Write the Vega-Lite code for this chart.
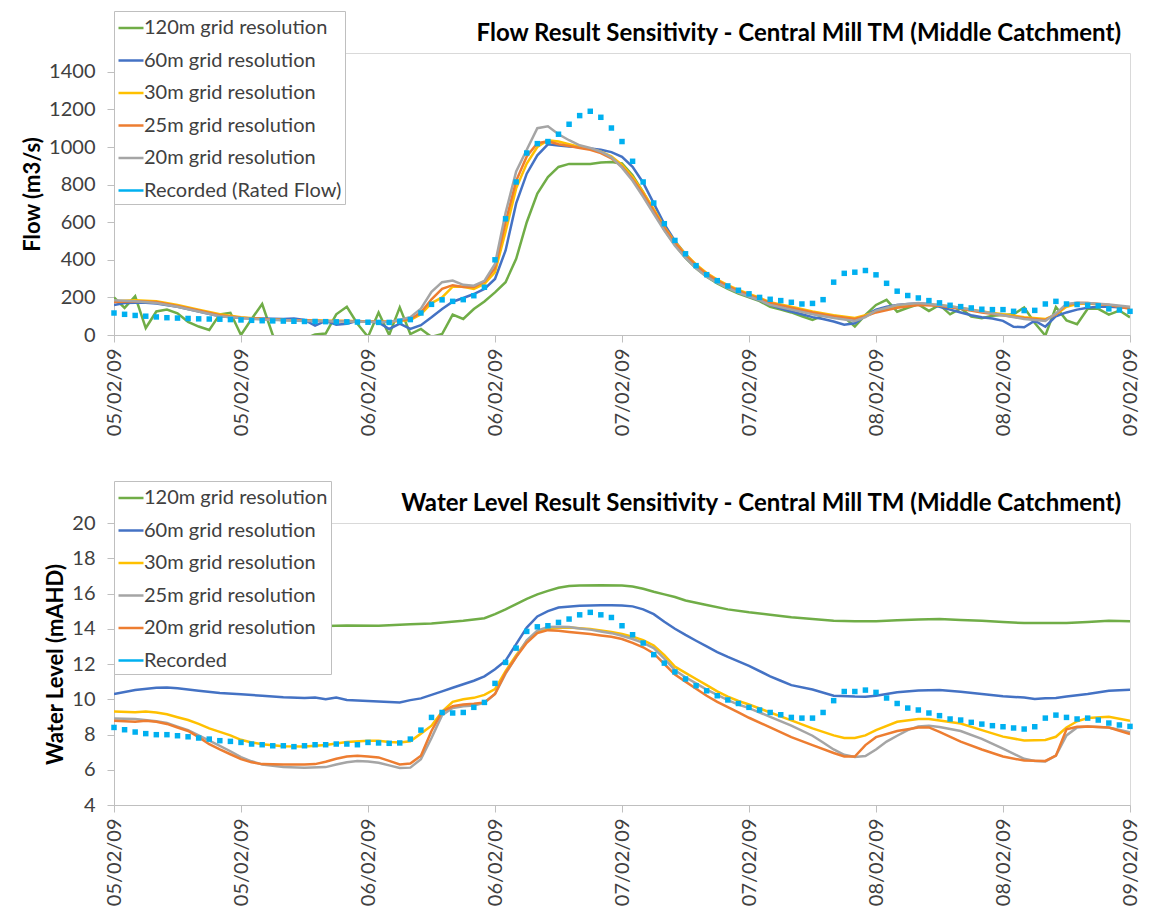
{
  "$schema": "https://vega.github.io/schema/vega-lite/v6.json",
  "padding": {"left": 21, "top": 10, "right": 20, "bottom": 5},
  "spacing": 43,
  "config": {
    "font": "Lato",
    "view": {"stroke": "#D9D9D9", "strokeWidth": 1},
    "axis": {"domainColor": "#BFBFBF", "tickColor": "#BFBFBF", "tickSize": 7, "labelFont": "Lato", "labelFontSize": 20, "labelColor": "#404040", "grid": false, "titleFont": "Lato", "titleFontSize": 22, "titleFontWeight": "bold", "titleColor": "#000000"},
    "legend": {"orient": "none", "legendX": 0, "legendY": -42, "title": null, "labelFont": "Lato", "labelFontSize": 20, "labelColor": "#404040", "labelLimit": 0, "labelOffset": -1, "rowPadding": 8.5, "padding": 3, "fillColor": "#FFFFFF", "strokeColor": "#BFBFBF", "symbolType": "stroke", "symbolSize": 625, "symbolStrokeWidth": 2.5},
    "title": {"font": "Lato", "fontSize": 24, "fontWeight": "bold", "color": "#000000", "anchor": "end", "frame": "group"}
  },
  "resolve": {"scale": {"color": "independent"}, "legend": {"color": "independent"}},
  "datasets": {
    "flow": [
      {"h":0,"s":"120m","v":200},{"h":1,"s":"120m","v":144},{"h":2,"s":"120m","v":206},{"h":3,"s":"120m","v":37},{"h":4,"s":"120m","v":125},{"h":5,"s":"120m","v":135},{"h":6,"s":"120m","v":115},{"h":7,"s":"120m","v":70},{"h":8,"s":"120m","v":45},{"h":9,"s":"120m","v":27},{"h":10,"s":"120m","v":110},{"h":11,"s":"120m","v":118},{"h":12,"s":"120m","v":0},{"h":13,"s":"120m","v":85},{"h":14,"s":"120m","v":165},{"h":15,"s":"120m","v":0},{"h":16,"s":"120m","v":-80},{"h":17,"s":"120m","v":-60},{"h":18,"s":"120m","v":-20},{"h":19,"s":"120m","v":3},{"h":20,"s":"120m","v":8},{"h":21,"s":"120m","v":110},{"h":22,"s":"120m","v":150},{"h":23,"s":"120m","v":60},{"h":24,"s":"120m","v":-10},{"h":25,"s":"120m","v":120},{"h":26,"s":"120m","v":0},{"h":27,"s":"120m","v":147},{"h":28,"s":"120m","v":5},{"h":29,"s":"120m","v":32},{"h":30,"s":"120m","v":-10},{"h":31,"s":"120m","v":5},{"h":32,"s":"120m","v":108},{"h":33,"s":"120m","v":85},{"h":34,"s":"120m","v":138},{"h":35,"s":"120m","v":178},{"h":36,"s":"120m","v":227},{"h":37,"s":"120m","v":281},{"h":38,"s":"120m","v":405},{"h":39,"s":"120m","v":600},{"h":40,"s":"120m","v":752},{"h":41,"s":"120m","v":840},{"h":42,"s":"120m","v":894},{"h":43,"s":"120m","v":910},{"h":44,"s":"120m","v":910},{"h":45,"s":"120m","v":910},{"h":46,"s":"120m","v":918},{"h":47,"s":"120m","v":920},{"h":48,"s":"120m","v":912},{"h":49,"s":"120m","v":850},{"h":50,"s":"120m","v":760},{"h":51,"s":"120m","v":660},{"h":52,"s":"120m","v":560},{"h":53,"s":"120m","v":480},{"h":54,"s":"120m","v":410},{"h":55,"s":"120m","v":355},{"h":56,"s":"120m","v":310},{"h":57,"s":"120m","v":275},{"h":58,"s":"120m","v":245},{"h":59,"s":"120m","v":220},{"h":60,"s":"120m","v":200},{"h":61,"s":"120m","v":180},{"h":62,"s":"120m","v":150},{"h":63,"s":"120m","v":135},{"h":64,"s":"120m","v":120},{"h":65,"s":"120m","v":100},{"h":66,"s":"120m","v":80},{"h":67,"s":"120m","v":103},{"h":68,"s":"120m","v":103},{"h":69,"s":"120m","v":94},{"h":70,"s":"120m","v":45},{"h":71,"s":"120m","v":107},{"h":72,"s":"120m","v":160},{"h":73,"s":"120m","v":187},{"h":74,"s":"120m","v":124},{"h":75,"s":"120m","v":145},{"h":76,"s":"120m","v":163},{"h":77,"s":"120m","v":128},{"h":78,"s":"120m","v":160},{"h":79,"s":"120m","v":110},{"h":80,"s":"120m","v":142},{"h":81,"s":"120m","v":98},{"h":82,"s":"120m","v":89},{"h":83,"s":"120m","v":103},{"h":84,"s":"120m","v":107},{"h":85,"s":"120m","v":110},{"h":86,"s":"120m","v":147},{"h":87,"s":"120m","v":64},{"h":88,"s":"120m","v":-3},{"h":89,"s":"120m","v":149},{"h":90,"s":"120m","v":78},{"h":91,"s":"120m","v":57},{"h":92,"s":"120m","v":139},{"h":93,"s":"120m","v":139},{"h":94,"s":"120m","v":108},{"h":95,"s":"120m","v":130},{"h":96,"s":"120m","v":94},

      {"h":0,"s":"60m","v":160},{"h":1,"s":"60m","v":170},{"h":2,"s":"60m","v":172},{"h":3,"s":"60m","v":172},{"h":4,"s":"60m","v":168},{"h":6,"s":"60m","v":150},{"h":8,"s":"60m","v":125},{"h":10,"s":"60m","v":100},{"h":12,"s":"60m","v":90},{"h":14,"s":"60m","v":88},{"h":16,"s":"60m","v":85},{"h":17,"s":"60m","v":88},{"h":18,"s":"60m","v":80},{"h":19,"s":"60m","v":50},{"h":20,"s":"60m","v":75},{"h":21,"s":"60m","v":55},{"h":22,"s":"60m","v":60},{"h":23,"s":"60m","v":75},{"h":24,"s":"60m","v":72},{"h":25,"s":"60m","v":67},{"h":26,"s":"60m","v":32},{"h":27,"s":"60m","v":60},{"h":28,"s":"60m","v":32},{"h":29,"s":"60m","v":52},{"h":30,"s":"60m","v":94},{"h":31,"s":"60m","v":138},{"h":32,"s":"60m","v":177},{"h":33,"s":"60m","v":197},{"h":34,"s":"60m","v":218},{"h":35,"s":"60m","v":245},{"h":36,"s":"60m","v":298},{"h":37,"s":"60m","v":450},{"h":38,"s":"60m","v":700},{"h":39,"s":"60m","v":858},{"h":40,"s":"60m","v":956},{"h":41,"s":"60m","v":1014},{"h":42,"s":"60m","v":1008},{"h":43,"s":"60m","v":1003},{"h":44,"s":"60m","v":1000},{"h":45,"s":"60m","v":992},{"h":46,"s":"60m","v":985},{"h":47,"s":"60m","v":973},{"h":48,"s":"60m","v":948},{"h":49,"s":"60m","v":895},{"h":50,"s":"60m","v":810},{"h":51,"s":"60m","v":700},{"h":52,"s":"60m","v":590},{"h":53,"s":"60m","v":500},{"h":54,"s":"60m","v":430},{"h":55,"s":"60m","v":370},{"h":56,"s":"60m","v":322},{"h":57,"s":"60m","v":285},{"h":58,"s":"60m","v":255},{"h":59,"s":"60m","v":228},{"h":60,"s":"60m","v":205},{"h":61,"s":"60m","v":185},{"h":62,"s":"60m","v":160},{"h":63,"s":"60m","v":140},{"h":64,"s":"60m","v":125},{"h":65,"s":"60m","v":110},{"h":66,"s":"60m","v":95},{"h":67,"s":"60m","v":85},{"h":68,"s":"60m","v":72},{"h":69,"s":"60m","v":55},{"h":70,"s":"60m","v":62},{"h":71,"s":"60m","v":103},{"h":72,"s":"60m","v":135},{"h":73,"s":"60m","v":150},{"h":74,"s":"60m","v":160},{"h":75,"s":"60m","v":165},{"h":76,"s":"60m","v":168},{"h":77,"s":"60m","v":165},{"h":78,"s":"60m","v":150},{"h":79,"s":"60m","v":135},{"h":80,"s":"60m","v":120},{"h":81,"s":"60m","v":105},{"h":82,"s":"60m","v":95},{"h":83,"s":"60m","v":88},{"h":84,"s":"60m","v":75},{"h":85,"s":"60m","v":44},{"h":86,"s":"60m","v":41},{"h":87,"s":"60m","v":76},{"h":88,"s":"60m","v":44},{"h":89,"s":"60m","v":100},{"h":90,"s":"60m","v":120},{"h":91,"s":"60m","v":135},{"h":92,"s":"60m","v":145},{"h":93,"s":"60m","v":150},{"h":94,"s":"60m","v":150},{"h":95,"s":"60m","v":148},{"h":96,"s":"60m","v":145},

      {"h":0,"s":"30m","v":180},{"h":2,"s":"30m","v":185},{"h":4,"s":"30m","v":180},{"h":6,"s":"30m","v":160},{"h":8,"s":"30m","v":135},{"h":10,"s":"30m","v":110},{"h":12,"s":"30m","v":95},{"h":14,"s":"30m","v":85},{"h":16,"s":"30m","v":80},{"h":18,"s":"30m","v":78},{"h":20,"s":"30m","v":76},{"h":22,"s":"30m","v":75},{"h":24,"s":"30m","v":72},{"h":26,"s":"30m","v":70},{"h":28,"s":"30m","v":80},{"h":29,"s":"30m","v":110},{"h":30,"s":"30m","v":170},{"h":31,"s":"30m","v":200},{"h":32,"s":"30m","v":257},{"h":33,"s":"30m","v":257},{"h":34,"s":"30m","v":245},{"h":35,"s":"30m","v":271},{"h":36,"s":"30m","v":334},{"h":37,"s":"30m","v":550},{"h":38,"s":"30m","v":780},{"h":39,"s":"30m","v":912},{"h":40,"s":"30m","v":1000},{"h":41,"s":"30m","v":1036},{"h":42,"s":"30m","v":1029},{"h":43,"s":"30m","v":1015},{"h":44,"s":"30m","v":1000},{"h":45,"s":"30m","v":990},{"h":46,"s":"30m","v":975},{"h":47,"s":"30m","v":950},{"h":48,"s":"30m","v":905},{"h":49,"s":"30m","v":840},{"h":50,"s":"30m","v":760},{"h":51,"s":"30m","v":670},{"h":52,"s":"30m","v":575},{"h":53,"s":"30m","v":495},{"h":54,"s":"30m","v":430},{"h":55,"s":"30m","v":375},{"h":56,"s":"30m","v":330},{"h":57,"s":"30m","v":295},{"h":58,"s":"30m","v":265},{"h":59,"s":"30m","v":240},{"h":60,"s":"30m","v":218},{"h":61,"s":"30m","v":198},{"h":62,"s":"30m","v":175},{"h":64,"s":"30m","v":150},{"h":66,"s":"30m","v":125},{"h":68,"s":"30m","v":105},{"h":70,"s":"30m","v":90},{"h":71,"s":"30m","v":105},{"h":72,"s":"30m","v":125},{"h":74,"s":"30m","v":150},{"h":76,"s":"30m","v":165},{"h":78,"s":"30m","v":160},{"h":80,"s":"30m","v":145},{"h":82,"s":"30m","v":125},{"h":84,"s":"30m","v":110},{"h":86,"s":"30m","v":95},{"h":88,"s":"30m","v":85},{"h":89,"s":"30m","v":110},{"h":90,"s":"30m","v":150},{"h":91,"s":"30m","v":165},{"h":92,"s":"30m","v":168},{"h":94,"s":"30m","v":160},{"h":96,"s":"30m","v":145},

      {"h":0,"s":"25m","v":175},{"h":2,"s":"25m","v":180},{"h":4,"s":"25m","v":175},{"h":6,"s":"25m","v":155},{"h":8,"s":"25m","v":130},{"h":10,"s":"25m","v":105},{"h":12,"s":"25m","v":92},{"h":14,"s":"25m","v":85},{"h":16,"s":"25m","v":80},{"h":18,"s":"25m","v":78},{"h":20,"s":"25m","v":75},{"h":22,"s":"25m","v":74},{"h":24,"s":"25m","v":72},{"h":26,"s":"25m","v":70},{"h":28,"s":"25m","v":85},{"h":29,"s":"25m","v":120},{"h":30,"s":"25m","v":190},{"h":31,"s":"25m","v":245},{"h":32,"s":"25m","v":265},{"h":33,"s":"25m","v":255},{"h":34,"s":"25m","v":255},{"h":35,"s":"25m","v":285},{"h":36,"s":"25m","v":355},{"h":37,"s":"25m","v":600},{"h":38,"s":"25m","v":820},{"h":39,"s":"25m","v":950},{"h":40,"s":"25m","v":1020},{"h":41,"s":"25m","v":1030},{"h":42,"s":"25m","v":1015},{"h":43,"s":"25m","v":1005},{"h":44,"s":"25m","v":995},{"h":45,"s":"25m","v":985},{"h":46,"s":"25m","v":968},{"h":47,"s":"25m","v":940},{"h":48,"s":"25m","v":895},{"h":49,"s":"25m","v":830},{"h":50,"s":"25m","v":750},{"h":51,"s":"25m","v":660},{"h":52,"s":"25m","v":570},{"h":53,"s":"25m","v":490},{"h":54,"s":"25m","v":425},{"h":55,"s":"25m","v":370},{"h":56,"s":"25m","v":325},{"h":57,"s":"25m","v":290},{"h":58,"s":"25m","v":260},{"h":59,"s":"25m","v":235},{"h":60,"s":"25m","v":213},{"h":61,"s":"25m","v":193},{"h":62,"s":"25m","v":170},{"h":64,"s":"25m","v":145},{"h":66,"s":"25m","v":120},{"h":68,"s":"25m","v":100},{"h":70,"s":"25m","v":85},{"h":71,"s":"25m","v":100},{"h":72,"s":"25m","v":120},{"h":74,"s":"25m","v":145},{"h":76,"s":"25m","v":160},{"h":78,"s":"25m","v":155},{"h":80,"s":"25m","v":140},{"h":82,"s":"25m","v":120},{"h":84,"s":"25m","v":105},{"h":86,"s":"25m","v":90},{"h":88,"s":"25m","v":80},{"h":89,"s":"25m","v":110},{"h":90,"s":"25m","v":160},{"h":91,"s":"25m","v":170},{"h":92,"s":"25m","v":170},{"h":94,"s":"25m","v":160},{"h":96,"s":"25m","v":140},

      {"h":0,"s":"20m","v":185},{"h":2,"s":"20m","v":180},{"h":4,"s":"20m","v":170},{"h":6,"s":"20m","v":150},{"h":8,"s":"20m","v":125},{"h":10,"s":"20m","v":100},{"h":12,"s":"20m","v":90},{"h":14,"s":"20m","v":82},{"h":16,"s":"20m","v":78},{"h":18,"s":"20m","v":75},{"h":20,"s":"20m","v":73},{"h":22,"s":"20m","v":72},{"h":24,"s":"20m","v":70},{"h":26,"s":"20m","v":68},{"h":28,"s":"20m","v":95},{"h":29,"s":"20m","v":140},{"h":30,"s":"20m","v":230},{"h":31,"s":"20m","v":281},{"h":32,"s":"20m","v":290},{"h":33,"s":"20m","v":267},{"h":34,"s":"20m","v":262},{"h":35,"s":"20m","v":288},{"h":36,"s":"20m","v":378},{"h":37,"s":"20m","v":650},{"h":38,"s":"20m","v":870},{"h":39,"s":"20m","v":985},{"h":40,"s":"20m","v":1100},{"h":41,"s":"20m","v":1110},{"h":42,"s":"20m","v":1068},{"h":43,"s":"20m","v":1036},{"h":44,"s":"20m","v":1009},{"h":45,"s":"20m","v":995},{"h":46,"s":"20m","v":975},{"h":47,"s":"20m","v":945},{"h":48,"s":"20m","v":890},{"h":49,"s":"20m","v":820},{"h":50,"s":"20m","v":735},{"h":51,"s":"20m","v":645},{"h":52,"s":"20m","v":555},{"h":53,"s":"20m","v":475},{"h":54,"s":"20m","v":410},{"h":55,"s":"20m","v":355},{"h":56,"s":"20m","v":310},{"h":57,"s":"20m","v":278},{"h":58,"s":"20m","v":250},{"h":59,"s":"20m","v":225},{"h":60,"s":"20m","v":205},{"h":61,"s":"20m","v":185},{"h":62,"s":"20m","v":160},{"h":64,"s":"20m","v":135},{"h":66,"s":"20m","v":110},{"h":68,"s":"20m","v":90},{"h":70,"s":"20m","v":75},{"h":71,"s":"20m","v":95},{"h":72,"s":"20m","v":130},{"h":74,"s":"20m","v":160},{"h":76,"s":"20m","v":170},{"h":78,"s":"20m","v":160},{"h":80,"s":"20m","v":145},{"h":82,"s":"20m","v":125},{"h":84,"s":"20m","v":105},{"h":86,"s":"20m","v":85},{"h":88,"s":"20m","v":75},{"h":89,"s":"20m","v":115},{"h":90,"s":"20m","v":165},{"h":91,"s":"20m","v":172},{"h":92,"s":"20m","v":170},{"h":94,"s":"20m","v":162},{"h":96,"s":"20m","v":150},

      {"h":0,"s":"Rec","v":117},{"h":1,"s":"Rec","v":110},{"h":2,"s":"Rec","v":104},{"h":3,"s":"Rec","v":100},{"h":4,"s":"Rec","v":96},{"h":5,"s":"Rec","v":92},{"h":6,"s":"Rec","v":90},{"h":7,"s":"Rec","v":88},{"h":8,"s":"Rec","v":86},{"h":9,"s":"Rec","v":85},{"h":10,"s":"Rec","v":84},{"h":11,"s":"Rec","v":82},{"h":12,"s":"Rec","v":80},{"h":13,"s":"Rec","v":78},{"h":14,"s":"Rec","v":76},{"h":15,"s":"Rec","v":75},{"h":16,"s":"Rec","v":74},{"h":17,"s":"Rec","v":73},{"h":18,"s":"Rec","v":72},{"h":19,"s":"Rec","v":72},{"h":20,"s":"Rec","v":71},{"h":21,"s":"Rec","v":70},{"h":22,"s":"Rec","v":70},{"h":23,"s":"Rec","v":69},{"h":24,"s":"Rec","v":68},{"h":25,"s":"Rec","v":67},{"h":26,"s":"Rec","v":67},{"h":27,"s":"Rec","v":73},{"h":28,"s":"Rec","v":82},{"h":29,"s":"Rec","v":117},{"h":30,"s":"Rec","v":163},{"h":31,"s":"Rec","v":187},{"h":32,"s":"Rec","v":179},{"h":33,"s":"Rec","v":188},{"h":34,"s":"Rec","v":209},{"h":35,"s":"Rec","v":254},{"h":36,"s":"Rec","v":400},{"h":37,"s":"Rec","v":618},{"h":38,"s":"Rec","v":814},{"h":39,"s":"Rec","v":968},{"h":40,"s":"Rec","v":1018},{"h":41,"s":"Rec","v":1029},{"h":42,"s":"Rec","v":1068},{"h":43,"s":"Rec","v":1121},{"h":44,"s":"Rec","v":1167},{"h":45,"s":"Rec","v":1190},{"h":46,"s":"Rec","v":1158},{"h":47,"s":"Rec","v":1101},{"h":48,"s":"Rec","v":1029},{"h":49,"s":"Rec","v":924},{"h":50,"s":"Rec","v":814},{"h":51,"s":"Rec","v":702},{"h":52,"s":"Rec","v":592},{"h":53,"s":"Rec","v":503},{"h":54,"s":"Rec","v":432},{"h":55,"s":"Rec","v":369},{"h":56,"s":"Rec","v":321},{"h":57,"s":"Rec","v":289},{"h":58,"s":"Rec","v":261},{"h":59,"s":"Rec","v":238},{"h":60,"s":"Rec","v":219},{"h":61,"s":"Rec","v":200},{"h":62,"s":"Rec","v":190},{"h":63,"s":"Rec","v":183},{"h":64,"s":"Rec","v":174},{"h":65,"s":"Rec","v":165},{"h":66,"s":"Rec","v":168},{"h":67,"s":"Rec","v":188},{"h":68,"s":"Rec","v":281},{"h":69,"s":"Rec","v":328},{"h":70,"s":"Rec","v":334},{"h":71,"s":"Rec","v":343},{"h":72,"s":"Rec","v":320},{"h":73,"s":"Rec","v":275},{"h":74,"s":"Rec","v":233},{"h":75,"s":"Rec","v":210},{"h":76,"s":"Rec","v":197},{"h":77,"s":"Rec","v":183},{"h":78,"s":"Rec","v":171},{"h":79,"s":"Rec","v":158},{"h":80,"s":"Rec","v":151},{"h":81,"s":"Rec","v":144},{"h":82,"s":"Rec","v":137},{"h":83,"s":"Rec","v":135},{"h":84,"s":"Rec","v":135},{"h":85,"s":"Rec","v":126},{"h":86,"s":"Rec","v":130},{"h":87,"s":"Rec","v":131},{"h":88,"s":"Rec","v":165},{"h":89,"s":"Rec","v":179},{"h":90,"s":"Rec","v":165},{"h":91,"s":"Rec","v":162},{"h":92,"s":"Rec","v":158},{"h":93,"s":"Rec","v":155},{"h":94,"s":"Rec","v":139},{"h":95,"s":"Rec","v":133},{"h":96,"s":"Rec","v":126}
    ],
    "level": [
      {"h":0,"s":"120m","v":14.2},{"h":4,"s":"120m","v":14.2},{"h":8,"s":"120m","v":14.2},{"h":12,"s":"120m","v":14.2},{"h":16,"s":"120m","v":14.2},{"h":20,"s":"120m","v":14.15},{"h":22,"s":"120m","v":14.18},{"h":25,"s":"120m","v":14.17},{"h":28,"s":"120m","v":14.25},{"h":30,"s":"120m","v":14.3},{"h":33,"s":"120m","v":14.45},{"h":35,"s":"120m","v":14.6},{"h":36,"s":"120m","v":14.83},{"h":37,"s":"120m","v":15.1},{"h":38,"s":"120m","v":15.4},{"h":39,"s":"120m","v":15.7},{"h":40,"s":"120m","v":15.95},{"h":41,"s":"120m","v":16.15},{"h":42,"s":"120m","v":16.33},{"h":43,"s":"120m","v":16.42},{"h":44,"s":"120m","v":16.45},{"h":46,"s":"120m","v":16.47},{"h":48,"s":"120m","v":16.45},{"h":49,"s":"120m","v":16.4},{"h":50,"s":"120m","v":16.27},{"h":51,"s":"120m","v":16.1},{"h":52,"s":"120m","v":15.95},{"h":53,"s":"120m","v":15.8},{"h":54,"s":"120m","v":15.6},{"h":56,"s":"120m","v":15.35},{"h":58,"s":"120m","v":15.1},{"h":60,"s":"120m","v":14.93},{"h":62,"s":"120m","v":14.8},{"h":64,"s":"120m","v":14.65},{"h":66,"s":"120m","v":14.55},{"h":68,"s":"120m","v":14.45},{"h":70,"s":"120m","v":14.42},{"h":72,"s":"120m","v":14.42},{"h":74,"s":"120m","v":14.48},{"h":76,"s":"120m","v":14.52},{"h":78,"s":"120m","v":14.55},{"h":80,"s":"120m","v":14.5},{"h":82,"s":"120m","v":14.45},{"h":84,"s":"120m","v":14.38},{"h":86,"s":"120m","v":14.32},{"h":88,"s":"120m","v":14.32},{"h":90,"s":"120m","v":14.32},{"h":92,"s":"120m","v":14.38},{"h":94,"s":"120m","v":14.45},{"h":96,"s":"120m","v":14.42},

      {"h":0,"s":"60m","v":10.3},{"h":2,"s":"60m","v":10.52},{"h":4,"s":"60m","v":10.65},{"h":5,"s":"60m","v":10.67},{"h":6,"s":"60m","v":10.62},{"h":8,"s":"60m","v":10.48},{"h":10,"s":"60m","v":10.35},{"h":12,"s":"60m","v":10.28},{"h":14,"s":"60m","v":10.2},{"h":16,"s":"60m","v":10.12},{"h":18,"s":"60m","v":10.07},{"h":19,"s":"60m","v":10.1},{"h":20,"s":"60m","v":10.0},{"h":21,"s":"60m","v":10.1},{"h":22,"s":"60m","v":9.96},{"h":24,"s":"60m","v":9.9},{"h":26,"s":"60m","v":9.85},{"h":27,"s":"60m","v":9.82},{"h":28,"s":"60m","v":9.95},{"h":29,"s":"60m","v":10.05},{"h":30,"s":"60m","v":10.25},{"h":31,"s":"60m","v":10.45},{"h":32,"s":"60m","v":10.65},{"h":33,"s":"60m","v":10.85},{"h":34,"s":"60m","v":11.05},{"h":35,"s":"60m","v":11.3},{"h":36,"s":"60m","v":11.7},{"h":37,"s":"60m","v":12.19},{"h":38,"s":"60m","v":13.13},{"h":39,"s":"60m","v":14.07},{"h":40,"s":"60m","v":14.7},{"h":41,"s":"60m","v":15.0},{"h":42,"s":"60m","v":15.2},{"h":44,"s":"60m","v":15.3},{"h":46,"s":"60m","v":15.33},{"h":47,"s":"60m","v":15.34},{"h":48,"s":"60m","v":15.32},{"h":49,"s":"60m","v":15.27},{"h":50,"s":"60m","v":15.1},{"h":51,"s":"60m","v":14.83},{"h":52,"s":"60m","v":14.4},{"h":53,"s":"60m","v":14.0},{"h":54,"s":"60m","v":13.65},{"h":55,"s":"60m","v":13.32},{"h":56,"s":"60m","v":13.0},{"h":57,"s":"60m","v":12.68},{"h":58,"s":"60m","v":12.4},{"h":60,"s":"60m","v":11.9},{"h":62,"s":"60m","v":11.3},{"h":63,"s":"60m","v":11.05},{"h":64,"s":"60m","v":10.8},{"h":66,"s":"60m","v":10.55},{"h":68,"s":"60m","v":10.2},{"h":70,"s":"60m","v":10.15},{"h":71,"s":"60m","v":10.14},{"h":72,"s":"60m","v":10.2},{"h":74,"s":"60m","v":10.4},{"h":76,"s":"60m","v":10.5},{"h":78,"s":"60m","v":10.52},{"h":80,"s":"60m","v":10.42},{"h":82,"s":"60m","v":10.3},{"h":84,"s":"60m","v":10.17},{"h":86,"s":"60m","v":10.1},{"h":87,"s":"60m","v":10.02},{"h":88,"s":"60m","v":10.05},{"h":89,"s":"60m","v":10.07},{"h":90,"s":"60m","v":10.15},{"h":92,"s":"60m","v":10.3},{"h":94,"s":"60m","v":10.48},{"h":96,"s":"60m","v":10.54},

      {"h":0,"s":"30m","v":9.31},{"h":2,"s":"30m","v":9.26},{"h":3,"s":"30m","v":9.3},{"h":4,"s":"30m","v":9.25},{"h":5,"s":"30m","v":9.15},{"h":6,"s":"30m","v":8.98},{"h":7,"s":"30m","v":8.82},{"h":8,"s":"30m","v":8.6},{"h":9,"s":"30m","v":8.35},{"h":10,"s":"30m","v":8.15},{"h":11,"s":"30m","v":7.95},{"h":12,"s":"30m","v":7.7},{"h":13,"s":"30m","v":7.55},{"h":14,"s":"30m","v":7.45},{"h":16,"s":"30m","v":7.33},{"h":18,"s":"30m","v":7.32},{"h":20,"s":"30m","v":7.4},{"h":22,"s":"30m","v":7.57},{"h":24,"s":"30m","v":7.65},{"h":25,"s":"30m","v":7.65},{"h":26,"s":"30m","v":7.57},{"h":27,"s":"30m","v":7.55},{"h":28,"s":"30m","v":7.62},{"h":29,"s":"30m","v":8.05},{"h":30,"s":"30m","v":8.5},{"h":31,"s":"30m","v":9.3},{"h":32,"s":"30m","v":9.85},{"h":33,"s":"30m","v":10.0},{"h":34,"s":"30m","v":10.08},{"h":35,"s":"30m","v":10.25},{"h":36,"s":"30m","v":10.58},{"h":37,"s":"30m","v":11.6},{"h":38,"s":"30m","v":12.5},{"h":39,"s":"30m","v":13.3},{"h":40,"s":"30m","v":13.8},{"h":41,"s":"30m","v":13.98},{"h":42,"s":"30m","v":14.05},{"h":43,"s":"30m","v":14.07},{"h":44,"s":"30m","v":14.03},{"h":45,"s":"30m","v":13.98},{"h":46,"s":"30m","v":13.9},{"h":47,"s":"30m","v":13.82},{"h":48,"s":"30m","v":13.7},{"h":49,"s":"30m","v":13.55},{"h":50,"s":"30m","v":13.35},{"h":51,"s":"30m","v":13.05},{"h":52,"s":"30m","v":12.5},{"h":53,"s":"30m","v":11.85},{"h":54,"s":"30m","v":11.5},{"h":55,"s":"30m","v":11.15},{"h":56,"s":"30m","v":10.8},{"h":57,"s":"30m","v":10.45},{"h":58,"s":"30m","v":10.15},{"h":59,"s":"30m","v":9.9},{"h":60,"s":"30m","v":9.7},{"h":62,"s":"30m","v":9.25},{"h":64,"s":"30m","v":8.8},{"h":66,"s":"30m","v":8.35},{"h":68,"s":"30m","v":7.95},{"h":69,"s":"30m","v":7.8},{"h":70,"s":"30m","v":7.8},{"h":71,"s":"30m","v":7.95},{"h":72,"s":"30m","v":8.25},{"h":74,"s":"30m","v":8.72},{"h":76,"s":"30m","v":8.88},{"h":77,"s":"30m","v":8.88},{"h":78,"s":"30m","v":8.8},{"h":80,"s":"30m","v":8.62},{"h":82,"s":"30m","v":8.25},{"h":84,"s":"30m","v":7.88},{"h":86,"s":"30m","v":7.66},{"h":88,"s":"30m","v":7.69},{"h":89,"s":"30m","v":7.87},{"h":90,"s":"30m","v":8.4},{"h":91,"s":"30m","v":8.75},{"h":92,"s":"30m","v":8.93},{"h":94,"s":"30m","v":9.0},{"h":96,"s":"30m","v":8.78},

      {"h":0,"s":"25m","v":8.91},{"h":2,"s":"25m","v":8.88},{"h":4,"s":"25m","v":8.75},{"h":5,"s":"25m","v":8.65},{"h":6,"s":"25m","v":8.45},{"h":7,"s":"25m","v":8.25},{"h":8,"s":"25m","v":7.95},{"h":9,"s":"25m","v":7.65},{"h":10,"s":"25m","v":7.35},{"h":11,"s":"25m","v":7.05},{"h":12,"s":"25m","v":6.72},{"h":13,"s":"25m","v":6.48},{"h":14,"s":"25m","v":6.3},{"h":16,"s":"25m","v":6.15},{"h":18,"s":"25m","v":6.12},{"h":20,"s":"25m","v":6.15},{"h":21,"s":"25m","v":6.3},{"h":22,"s":"25m","v":6.42},{"h":23,"s":"25m","v":6.5},{"h":24,"s":"25m","v":6.47},{"h":25,"s":"25m","v":6.4},{"h":26,"s":"25m","v":6.25},{"h":27,"s":"25m","v":6.1},{"h":28,"s":"25m","v":6.12},{"h":29,"s":"25m","v":6.6},{"h":30,"s":"25m","v":7.8},{"h":31,"s":"25m","v":9.1},{"h":32,"s":"25m","v":9.5},{"h":33,"s":"25m","v":9.6},{"h":34,"s":"25m","v":9.65},{"h":35,"s":"25m","v":9.8},{"h":36,"s":"25m","v":10.3},{"h":37,"s":"25m","v":11.45},{"h":38,"s":"25m","v":12.4},{"h":39,"s":"25m","v":13.35},{"h":40,"s":"25m","v":13.9},{"h":41,"s":"25m","v":14.1},{"h":42,"s":"25m","v":14.12},{"h":43,"s":"25m","v":14.1},{"h":44,"s":"25m","v":14.02},{"h":45,"s":"25m","v":13.95},{"h":46,"s":"25m","v":13.85},{"h":47,"s":"25m","v":13.75},{"h":48,"s":"25m","v":13.6},{"h":49,"s":"25m","v":13.42},{"h":50,"s":"25m","v":13.2},{"h":51,"s":"25m","v":12.9},{"h":52,"s":"25m","v":12.3},{"h":53,"s":"25m","v":11.65},{"h":54,"s":"25m","v":11.25},{"h":55,"s":"25m","v":10.9},{"h":56,"s":"25m","v":10.55},{"h":57,"s":"25m","v":10.25},{"h":58,"s":"25m","v":9.95},{"h":59,"s":"25m","v":9.7},{"h":60,"s":"25m","v":9.5},{"h":62,"s":"25m","v":9.0},{"h":64,"s":"25m","v":8.5},{"h":66,"s":"25m","v":7.93},{"h":67,"s":"25m","v":7.55},{"h":68,"s":"25m","v":7.15},{"h":69,"s":"25m","v":6.85},{"h":70,"s":"25m","v":6.72},{"h":71,"s":"25m","v":6.78},{"h":72,"s":"25m","v":7.15},{"h":73,"s":"25m","v":7.6},{"h":74,"s":"25m","v":7.93},{"h":75,"s":"25m","v":8.25},{"h":76,"s":"25m","v":8.45},{"h":77,"s":"25m","v":8.5},{"h":78,"s":"25m","v":8.42},{"h":80,"s":"25m","v":8.2},{"h":82,"s":"25m","v":7.75},{"h":84,"s":"25m","v":7.2},{"h":86,"s":"25m","v":6.62},{"h":87,"s":"25m","v":6.5},{"h":88,"s":"25m","v":6.47},{"h":89,"s":"25m","v":6.8},{"h":90,"s":"25m","v":7.95},{"h":91,"s":"25m","v":8.4},{"h":92,"s":"25m","v":8.45},{"h":94,"s":"25m","v":8.4},{"h":96,"s":"25m","v":8.12},

      {"h":0,"s":"20m","v":8.78},{"h":2,"s":"20m","v":8.73},{"h":3,"s":"20m","v":8.78},{"h":4,"s":"20m","v":8.72},{"h":5,"s":"20m","v":8.6},{"h":6,"s":"20m","v":8.4},{"h":7,"s":"20m","v":8.2},{"h":8,"s":"20m","v":7.85},{"h":9,"s":"20m","v":7.45},{"h":10,"s":"20m","v":7.15},{"h":11,"s":"20m","v":6.88},{"h":12,"s":"20m","v":6.6},{"h":13,"s":"20m","v":6.42},{"h":14,"s":"20m","v":6.32},{"h":16,"s":"20m","v":6.3},{"h":18,"s":"20m","v":6.3},{"h":19,"s":"20m","v":6.32},{"h":20,"s":"20m","v":6.45},{"h":21,"s":"20m","v":6.62},{"h":22,"s":"20m","v":6.75},{"h":23,"s":"20m","v":6.8},{"h":24,"s":"20m","v":6.75},{"h":25,"s":"20m","v":6.7},{"h":26,"s":"20m","v":6.5},{"h":27,"s":"20m","v":6.3},{"h":28,"s":"20m","v":6.35},{"h":29,"s":"20m","v":6.8},{"h":30,"s":"20m","v":8.2},{"h":31,"s":"20m","v":9.3},{"h":32,"s":"20m","v":9.6},{"h":33,"s":"20m","v":9.7},{"h":34,"s":"20m","v":9.75},{"h":35,"s":"20m","v":9.82},{"h":36,"s":"20m","v":10.3},{"h":37,"s":"20m","v":11.5},{"h":38,"s":"20m","v":12.4},{"h":39,"s":"20m","v":13.2},{"h":40,"s":"20m","v":13.75},{"h":41,"s":"20m","v":13.92},{"h":42,"s":"20m","v":13.88},{"h":43,"s":"20m","v":13.82},{"h":44,"s":"20m","v":13.76},{"h":45,"s":"20m","v":13.7},{"h":46,"s":"20m","v":13.62},{"h":47,"s":"20m","v":13.55},{"h":48,"s":"20m","v":13.42},{"h":49,"s":"20m","v":13.2},{"h":50,"s":"20m","v":12.95},{"h":51,"s":"20m","v":12.6},{"h":52,"s":"20m","v":12.0},{"h":53,"s":"20m","v":11.4},{"h":54,"s":"20m","v":11.0},{"h":55,"s":"20m","v":10.6},{"h":56,"s":"20m","v":10.2},{"h":57,"s":"20m","v":9.85},{"h":58,"s":"20m","v":9.55},{"h":59,"s":"20m","v":9.25},{"h":60,"s":"20m","v":8.95},{"h":62,"s":"20m","v":8.4},{"h":64,"s":"20m","v":7.85},{"h":66,"s":"20m","v":7.4},{"h":68,"s":"20m","v":6.95},{"h":69,"s":"20m","v":6.75},{"h":70,"s":"20m","v":6.75},{"h":71,"s":"20m","v":7.4},{"h":72,"s":"20m","v":7.85},{"h":74,"s":"20m","v":8.2},{"h":76,"s":"20m","v":8.4},{"h":77,"s":"20m","v":8.4},{"h":78,"s":"20m","v":8.15},{"h":80,"s":"20m","v":7.6},{"h":82,"s":"20m","v":7.15},{"h":84,"s":"20m","v":6.75},{"h":86,"s":"20m","v":6.52},{"h":88,"s":"20m","v":6.5},{"h":89,"s":"20m","v":6.8},{"h":90,"s":"20m","v":8.3},{"h":91,"s":"20m","v":8.44},{"h":92,"s":"20m","v":8.45},{"h":94,"s":"20m","v":8.4},{"h":96,"s":"20m","v":8.03},

      {"h":0,"s":"Rec","v":8.4},{"h":1,"s":"Rec","v":8.27},{"h":2,"s":"Rec","v":8.14},{"h":3,"s":"Rec","v":8.05},{"h":4,"s":"Rec","v":7.99},{"h":5,"s":"Rec","v":7.99},{"h":6,"s":"Rec","v":7.93},{"h":7,"s":"Rec","v":7.87},{"h":8,"s":"Rec","v":7.8},{"h":9,"s":"Rec","v":7.74},{"h":10,"s":"Rec","v":7.65},{"h":11,"s":"Rec","v":7.61},{"h":12,"s":"Rec","v":7.55},{"h":13,"s":"Rec","v":7.46},{"h":14,"s":"Rec","v":7.42},{"h":15,"s":"Rec","v":7.36},{"h":16,"s":"Rec","v":7.36},{"h":17,"s":"Rec","v":7.31},{"h":18,"s":"Rec","v":7.36},{"h":19,"s":"Rec","v":7.42},{"h":20,"s":"Rec","v":7.42},{"h":21,"s":"Rec","v":7.46},{"h":22,"s":"Rec","v":7.46},{"h":23,"s":"Rec","v":7.42},{"h":24,"s":"Rec","v":7.55},{"h":25,"s":"Rec","v":7.52},{"h":26,"s":"Rec","v":7.5},{"h":27,"s":"Rec","v":7.52},{"h":28,"s":"Rec","v":7.74},{"h":29,"s":"Rec","v":8.25},{"h":30,"s":"Rec","v":8.97},{"h":31,"s":"Rec","v":9.25},{"h":32,"s":"Rec","v":9.22},{"h":33,"s":"Rec","v":9.25},{"h":34,"s":"Rec","v":9.54},{"h":35,"s":"Rec","v":9.82},{"h":36,"s":"Rec","v":10.9},{"h":37,"s":"Rec","v":12.09},{"h":38,"s":"Rec","v":12.9},{"h":39,"s":"Rec","v":13.85},{"h":40,"s":"Rec","v":14.11},{"h":41,"s":"Rec","v":14.17},{"h":42,"s":"Rec","v":14.36},{"h":43,"s":"Rec","v":14.55},{"h":44,"s":"Rec","v":14.79},{"h":45,"s":"Rec","v":14.93},{"h":46,"s":"Rec","v":14.79},{"h":47,"s":"Rec","v":14.64},{"h":48,"s":"Rec","v":14.17},{"h":49,"s":"Rec","v":13.66},{"h":50,"s":"Rec","v":13.19},{"h":51,"s":"Rec","v":12.53},{"h":52,"s":"Rec","v":12.05},{"h":53,"s":"Rec","v":11.55},{"h":54,"s":"Rec","v":11.15},{"h":55,"s":"Rec","v":10.77},{"h":56,"s":"Rec","v":10.48},{"h":57,"s":"Rec","v":10.2},{"h":58,"s":"Rec","v":9.96},{"h":59,"s":"Rec","v":9.76},{"h":60,"s":"Rec","v":9.54},{"h":61,"s":"Rec","v":9.39},{"h":62,"s":"Rec","v":9.25},{"h":63,"s":"Rec","v":9.12},{"h":64,"s":"Rec","v":8.97},{"h":65,"s":"Rec","v":8.93},{"h":66,"s":"Rec","v":8.93},{"h":67,"s":"Rec","v":9.25},{"h":68,"s":"Rec","v":9.92},{"h":69,"s":"Rec","v":10.44},{"h":70,"s":"Rec","v":10.44},{"h":71,"s":"Rec","v":10.52},{"h":72,"s":"Rec","v":10.39},{"h":73,"s":"Rec","v":10.07},{"h":74,"s":"Rec","v":9.76},{"h":75,"s":"Rec","v":9.5},{"h":76,"s":"Rec","v":9.39},{"h":77,"s":"Rec","v":9.22},{"h":78,"s":"Rec","v":9.07},{"h":79,"s":"Rec","v":8.88},{"h":80,"s":"Rec","v":8.82},{"h":81,"s":"Rec","v":8.69},{"h":82,"s":"Rec","v":8.59},{"h":83,"s":"Rec","v":8.5},{"h":84,"s":"Rec","v":8.44},{"h":85,"s":"Rec","v":8.37},{"h":86,"s":"Rec","v":8.31},{"h":87,"s":"Rec","v":8.44},{"h":88,"s":"Rec","v":8.93},{"h":89,"s":"Rec","v":9.1},{"h":90,"s":"Rec","v":8.97},{"h":91,"s":"Rec","v":8.88},{"h":92,"s":"Rec","v":8.93},{"h":93,"s":"Rec","v":8.82},{"h":94,"s":"Rec","v":8.65},{"h":95,"s":"Rec","v":8.54},{"h":96,"s":"Rec","v":8.46}
    ]
  },
  "vconcat": [
    {
      "title": {"text": "Flow Result Sensitivity - Central Mill TM (Middle Catchment)", "anchor": "end", "frame": "group", "offset": -35, "dx": -9},
      "width": 1016,
      "height": 282,
      "data": {"name": "flow"},
      "encoding": {
        "x": {"field": "h", "type": "quantitative", "scale": {"domain": [0, 96], "nice": false, "zero": false},
          "axis": {"values": [0, 12, 24, 36, 48, 60, 72, 84, 96], "labelExpr": "timeFormat(time(datetime(2009, 1, 5)) + datum.value * 3600000, '%d/%m/%y')", "labelAngle": -90, "labelPadding": 6, "title": null}},
        "y": {"field": "v", "type": "quantitative", "scale": {"domain": [0, 1500], "nice": false},
          "axis": {"values": [0, 200, 400, 600, 800, 1000, 1200, 1400], "format": "d", "title": "Flow (m3/s)", "labelPadding": 12, "titlePadding": 4}},
        "color": {"field": "s", "type": "nominal",
          "scale": {"domain": ["120m", "60m", "30m", "25m", "20m", "Rec"], "range": ["#70AD47", "#4472C4", "#FFC000", "#ED7D31", "#A5A5A5", "#00B0F0"]},
          "legend": {"labelExpr": "datum.value == 'Rec' ? 'Recorded (Rated Flow)' : datum.value + ' grid resolution'",
            "encoding": {"symbols": {"update": {
              "shape": {"signal": "datum.value == 'Rec' ? 'square' : 'stroke'"},
              "size": {"signal": "datum.value == 'Rec' ? 30 : 625"},
              "strokeWidth": {"signal": "datum.value == 'Rec' ? 0 : 2.5"},
              "opacity": {"value": 1},
              "fill": {"signal": "datum.value == 'Rec' ? '#00B0F0' : 'transparent'"},
              "stroke": {"signal": "({'120m':'#70AD47','60m':'#4472C4','30m':'#FFC000','25m':'#ED7D31','20m':'#A5A5A5','Rec':'#00B0F0'})[datum.value]"}
            }}}}
        }
      },
      "layer": [
        {"transform": [{"filter": "datum.s != 'Rec'"}], "mark": {"type": "line", "strokeWidth": 2.5, "clip": true}},
        {"transform": [{"filter": "datum.s == 'Rec'"}], "mark": {"type": "point", "shape": "square", "filled": true, "size": 30, "opacity": 1}}
      ]
    },
    {
      "title": {"text": "Water Level Result Sensitivity - Central Mill TM (Middle Catchment)", "anchor": "end", "frame": "group", "offset": -35, "dx": -9},
      "width": 1016,
      "height": 282,
      "data": {"name": "level"},
      "encoding": {
        "x": {"field": "h", "type": "quantitative", "scale": {"domain": [0, 96], "nice": false, "zero": false},
          "axis": {"values": [0, 12, 24, 36, 48, 60, 72, 84, 96], "labelExpr": "timeFormat(time(datetime(2009, 1, 5)) + datum.value * 3600000, '%d/%m/%y')", "labelAngle": -90, "labelPadding": 6, "title": null}},
        "y": {"field": "v", "type": "quantitative", "scale": {"domain": [4, 20], "nice": false, "zero": false},
          "axis": {"values": [4, 6, 8, 10, 12, 14, 16, 18, 20], "format": "d", "title": "Water Level (mAHD)", "labelPadding": 12, "titlePadding": 4}},
        "color": {"field": "s", "type": "nominal",
          "scale": {"domain": ["120m", "60m", "30m", "25m", "20m", "Rec"], "range": ["#70AD47", "#4472C4", "#FFC000", "#A5A5A5", "#ED7D31", "#00B0F0"]},
          "legend": {"labelExpr": "datum.value == 'Rec' ? 'Recorded' : datum.value + ' grid resolution'",
            "encoding": {"symbols": {"update": {
              "shape": {"signal": "datum.value == 'Rec' ? 'square' : 'stroke'"},
              "size": {"signal": "datum.value == 'Rec' ? 30 : 625"},
              "strokeWidth": {"signal": "datum.value == 'Rec' ? 0 : 2.5"},
              "opacity": {"value": 1},
              "fill": {"signal": "datum.value == 'Rec' ? '#00B0F0' : 'transparent'"},
              "stroke": {"signal": "({'120m':'#70AD47','60m':'#4472C4','30m':'#FFC000','25m':'#A5A5A5','20m':'#ED7D31','Rec':'#00B0F0'})[datum.value]"}
            }}}}
        }
      },
      "layer": [
        {"transform": [{"filter": "datum.s != 'Rec'"}], "mark": {"type": "line", "strokeWidth": 2.5, "clip": true}},
        {"transform": [{"filter": "datum.s == 'Rec'"}], "mark": {"type": "point", "shape": "square", "filled": true, "size": 30, "opacity": 1}}
      ]
    }
  ]
}
